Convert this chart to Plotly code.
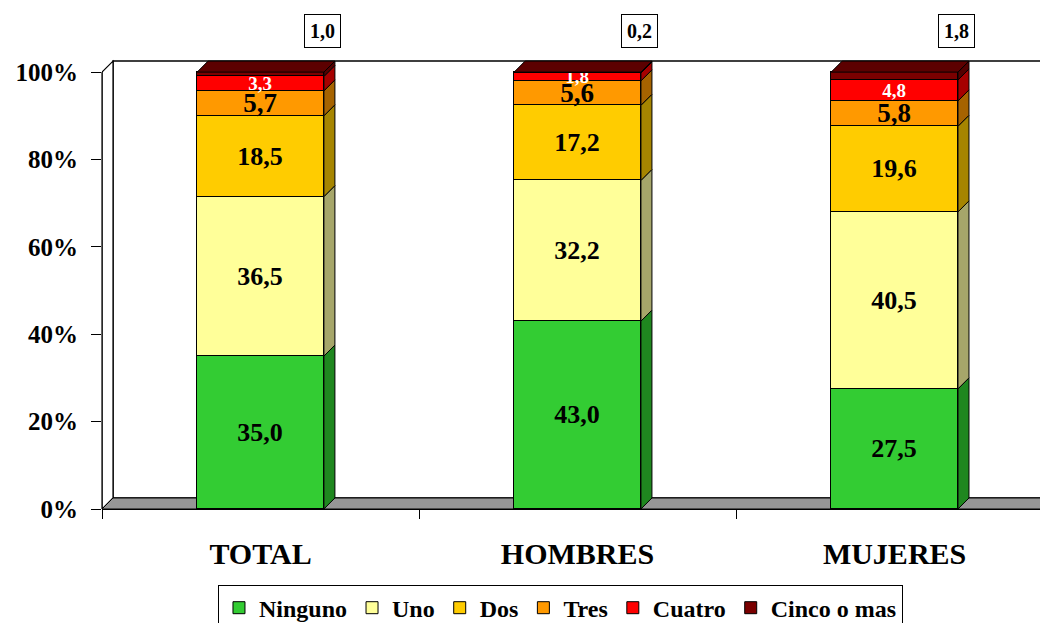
import plotly.graph_objects as go

categories = ["TOTAL", "HOMBRES", "MUJERES"]
series = ["Ninguno", "Uno", "Dos", "Tres", "Cuatro", "Cinco o mas"]
ninguno = [35.0, 43.0, 27.5]
uno = [36.5, 32.2, 40.5]
dos = [18.5, 17.2, 19.6]
tres = [5.7, 5.6, 5.8]
cuatro = [3.3, 1.8, 4.8]
cinco = [1.0, 0.2, 1.8]
y_ticks = [0, 20, 40, 60, 80, 100]

values = [ninguno, uno, dos, tres, cuatro, cinco]
front = ["#33CC33", "#FFFF99", "#FFCC00", "#FF9900", "#FF0000", "#7A0000"]
side = ["#1F871F", "#A6A66A", "#A68500", "#A66300", "#A60000", "#530000"]
top_col = "#5C0000"

FONT = "Liberation Serif, Times New Roman, serif"
W = 0.4          # bar width (x units)
DX = 0.0347      # depth in x units
DY = 2.52        # depth in y units


def fmt(v):
    return f"{v:.1f}".replace(".", ",")


label_style = [
    dict(size=26, color="black", weight="bold"),
    dict(size=26, color="black", weight="bold"),
    dict(size=26, color="black", weight="bold"),
    dict(size=27, color="black", weight="bold"),
    dict(size=19, color="white", weight="bold"),
    None,
]

xs = list(range(len(categories)))

fig = go.Figure()

for k, name in enumerate(series):
    st = label_style[k]
    fig.add_trace(
        go.Bar(
            x=xs,
            y=values[k],
            name=name,
            width=W,
            marker=dict(color=front[k], line=dict(color="black", width=1)),
            text=[fmt(v) for v in values[k]] if st else None,
            textposition="inside" if st else "none",
            insidetextanchor="middle",
            constraintext="none",
            textfont=dict(family=FONT, **st) if st else None,
            hoverinfo="skip",
        )
    )

shapes = []

# back wall, left wall, floor
shapes.append(dict(type="rect", xref="x", yref="y", x0=-0.5 + DX, x1=2.6, y0=DY, y1=100 + DY,
                   fillcolor="white", line=dict(color="black", width=1.5), layer="below"))
shapes.append(dict(type="path", xref="x", yref="y",
                   path=f"M -0.5,0 L -0.5,100 L {-0.5 + DX},{100 + DY} L {-0.5 + DX},{DY} Z",
                   fillcolor="white", line=dict(color="black", width=1.2), layer="below"))
shapes.append(dict(type="path", xref="x", yref="y",
                   path=f"M -0.5,0 L {-0.5 + DX},{DY} L 2.6,{DY} L 2.6,0 Z",
                   fillcolor="#969696", line=dict(color="black", width=1), layer="below"))
shapes.append(dict(type="line", xref="paper", yref="y", x0=0, x1=0, y0=0, y1=100,
                   line=dict(color="black", width=1.2)))

# 3d sides and tops of the bars
for i in xs:
    xl = i - W / 2
    xr = i + W / 2
    cum = 0
    for k in range(len(series)):
        v = values[k][i]
        y0, y1 = cum, cum + v
        shapes.append(dict(
            type="path", xref="x", yref="y",
            path=f"M {xr},{y0} L {xr + DX},{y0 + DY} L {xr + DX},{y1 + DY} L {xr},{y1} Z",
            fillcolor=side[k], line=dict(color="black", width=1), layer="above"))
        cum = y1
    shapes.append(dict(
        type="path", xref="x", yref="y",
        path=f"M {xl},{cum} L {xl + DX},{cum + DY} L {xr + DX},{cum + DY} L {xr},{cum} Z",
        fillcolor=top_col, line=dict(color="black", width=1), layer="above"))

annotations = []
for i in xs:
    annotations.append(dict(
        x=i + 0.196, y=1.062, xref="x", yref="paper",
        xanchor="center", yanchor="middle",
        text=fmt(cinco[i]), showarrow=False,
        font=dict(family=FONT, size=20, color="black", weight="bold"),
        bgcolor="white", bordercolor="black", borderwidth=1, borderpad=5,
    ))

# the page body adds an 8px offset; the figure runs past the window bottom
# (like the reference, whose legend box is cut off) so nothing pushes the margins
fig.update_layout(
    width=1040,
    height=640,
    margin=dict(l=94, r=0, t=51, b=139),
    barmode="stack",
    bargap=0,
    plot_bgcolor="white",
    paper_bgcolor="white",
    shapes=shapes,
    annotations=annotations,
    showlegend=True,
    legend=dict(
        orientation="h",
        x=0.1226, xanchor="left",
        y=-0.168, yanchor="top",
        traceorder="normal",
        bordercolor="black", borderwidth=1,
        bgcolor="white",
        itemwidth=30,
        font=dict(family=FONT, size=24, color="black", weight="bold"),
    ),
)

fig.update_xaxes(
    range=[-0.5, 2.484],
    tickvals=xs,
    ticktext=categories,
    ticks="",
    showgrid=False,
    zeroline=False,
    showline=True,
    linecolor="black",
    linewidth=1,
    tickfont=dict(family=FONT, size=30, color="black", weight="bold"),
    ticklabelstandoff=18,
    minor=dict(tickvals=[-0.5, 0.5, 1.5, 2.5], ticks="outside", ticklen=9,
               tickcolor="black", tickwidth=1),
)

fig.update_yaxes(
    range=[0, 103],
    tickvals=y_ticks,
    ticktext=[f"{t}%" for t in y_ticks],
    ticks="outside",
    ticklen=10,
    tickcolor="black",
    showgrid=False,
    zeroline=False,
    showline=False,
    tickfont=dict(family=FONT, size=25, color="black", weight="bold"),
    ticklabelstandoff=8,
)

fig.write_html("out.html")
